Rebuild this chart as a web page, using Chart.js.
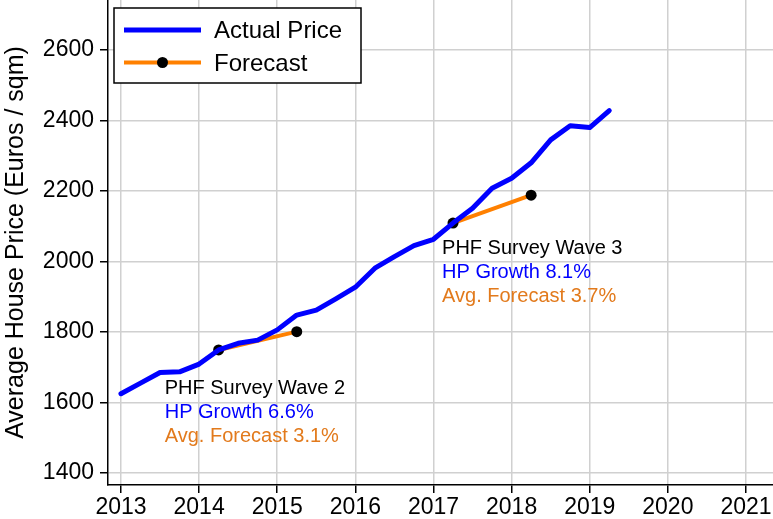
<!DOCTYPE html>
<html>
<head>
<meta charset="utf-8">
<script src="https://cdn.jsdelivr.net/npm/chart.js@4/dist/chart.umd.min.js"></script>
<style>
html,body{margin:0;padding:0;background:#fff;}
#wrap{width:773px;height:519px;position:relative;}
</style>
</head>
<body>
<div id="wrap"><canvas id="c" width="773" height="519"></canvas></div>
<script>
// ---- data ----
const quarters = [2013.0,2013.25,2013.5,2013.75,2014.0,2014.25,2014.5,2014.75,2015.0,2015.25,2015.5,2015.75,2016.0,2016.25,2016.5,2016.75,2017.0,2017.25,2017.5,2017.75,2018.0,2018.25,2018.5,2018.75,2019.0,2019.25];
const actualPrice = [1625,1655,1685,1687,1709,1749,1768,1777,1806,1848,1862,1894,1927,1981,2014,2045,2063,2109,2151,2208,2236,2280,2345,2385,2380,2428];
const forecastW2X = [2014.25, 2015.25];
const forecastW2Y = [1749, 1801];
const forecastW3X = [2017.25, 2018.25];
const forecastW3Y = [2109, 2188];
const xTicks = [2013,2014,2015,2016,2017,2018,2019,2020,2021];
const yTicks = [1400,1600,1800,2000,2200,2400,2600];
const legendLabels = ['Actual Price','Forecast'];
const annotations = [
  {x: 2013.56, y: 1640, lines: ['PHF Survey Wave 2','HP Growth 6.6%','Avg. Forecast 3.1%']},
  {x: 2017.11, y: 2038, lines: ['PHF Survey Wave 3','HP Growth 8.1%','Avg. Forecast 3.7%']}
];

const FONT = '"Liberation Sans", Arial, Helvetica, sans-serif';
const BLUE = '#0000ff', ORANGE = '#ff8000', ORANGE_TXT = '#e27a1c';
const lineColors = ['#000000', BLUE, ORANGE_TXT];

const toXY = (xs, ys) => xs.map((x, i) => ({x, y: ys[i]}));
const noPad = s => { s.paddingTop = 0; s.paddingBottom = 0; s.paddingLeft = 0; s.paddingRight = 0; };

const overlayPlugin = {
  id: 'overlay',
  afterDatasetsDraw(chart) {
    const ctx = chart.ctx, xs = chart.scales.x, ys = chart.scales.y;
    ctx.save();
    // annotations
    ctx.font = '20px ' + FONT;
    ctx.textAlign = 'left';
    ctx.textBaseline = 'middle';
    annotations.forEach(a => {
      const px = xs.getPixelForValue(a.x), py = ys.getPixelForValue(a.y);
      a.lines.forEach((t, i) => {
        ctx.fillStyle = lineColors[i];
        ctx.fillText(t, px, py + i * 24);
      });
    });
    // legend box
    const bx = 114, by = 8, bw = 247, bh = 75;
    ctx.fillStyle = '#fff';
    ctx.fillRect(bx, by, bw, bh);
    ctx.strokeStyle = '#000';
    ctx.lineWidth = 1.5;
    ctx.strokeRect(bx, by, bw, bh);
    ctx.lineCap = 'butt';
    ctx.strokeStyle = BLUE; ctx.lineWidth = 5;
    ctx.beginPath(); ctx.moveTo(124, 30); ctx.lineTo(201, 30); ctx.stroke();
    ctx.strokeStyle = ORANGE; ctx.lineWidth = 4;
    ctx.beginPath(); ctx.moveTo(124, 62.5); ctx.lineTo(201, 62.5); ctx.stroke();
    ctx.fillStyle = '#000';
    ctx.beginPath(); ctx.arc(162.5, 62.5, 5.5, 0, Math.PI * 2); ctx.fill();
    ctx.font = '24px ' + FONT;
    ctx.fillStyle = '#000';
    ctx.fillText(legendLabels[0], 214, 31);
    ctx.fillText(legendLabels[1], 214, 64);
    ctx.restore();
  }
};

new Chart(document.getElementById('c'), {
  type: 'line',
  data: {
    datasets: [
      {label: legendLabels[0], data: toXY(quarters, actualPrice), borderColor: BLUE, borderWidth: 5, pointRadius: 0, borderJoinStyle: 'round', borderCapStyle: 'round'},
      {label: legendLabels[1], data: toXY(forecastW2X, forecastW2Y), borderColor: ORANGE, borderWidth: 4, pointRadius: 5.5, pointBackgroundColor: '#000', pointBorderWidth: 0},
      {label: legendLabels[1] + ' 3', data: toXY(forecastW3X, forecastW3Y), borderColor: ORANGE, borderWidth: 4, pointRadius: 5.5, pointBackgroundColor: '#000', pointBorderWidth: 0}
    ]
  },
  options: {
    responsive: false,
    animation: false,
    devicePixelRatio: 1,
    layout: {autoPadding: false, padding: 0},
    plugins: {legend: {display: false}, tooltip: {enabled: false}},
    scales: {
      x: {
        type: 'linear',
        min: 2012.834, max: 2021.346,
        afterBuildTicks: s => { s.ticks = xTicks.map(v => ({value: v})); },
        afterFit: s => { s.height = 34; noPad(s); },
        grid: {color: '#d0d0d0', lineWidth: 1.5, tickColor: '#000', tickLength: 8, tickWidth: 1.5},
        border: {color: '#000', width: 1.5},
        ticks: {color: '#000', font: {family: FONT, size: 23}, padding: 1, maxRotation: 0, autoSkip: false, callback: v => String(v)}
      },
      y: {
        type: 'linear',
        min: 1365.96, max: 2741.8,
        afterBuildTicks: s => { s.ticks = yTicks.map(v => ({value: v})); },
        afterFit: s => { s.width = 108; noPad(s); },
        grid: {color: '#d0d0d0', lineWidth: 1.5, tickColor: '#000', tickLength: 8, tickWidth: 1.5},
        border: {color: '#000', width: 1.5},
        ticks: {color: '#000', font: {family: FONT, size: 23}, padding: 6, autoSkip: false, callback: v => String(v)},
        title: {display: true, text: 'Average House Price (Euros / sqm)', color: '#000', font: {family: FONT, size: 25, lineHeight: 1.2}, padding: {top: 1, bottom: 0}}
      }
    }
  },
  plugins: [overlayPlugin]
});
</script>
</body>
</html>
